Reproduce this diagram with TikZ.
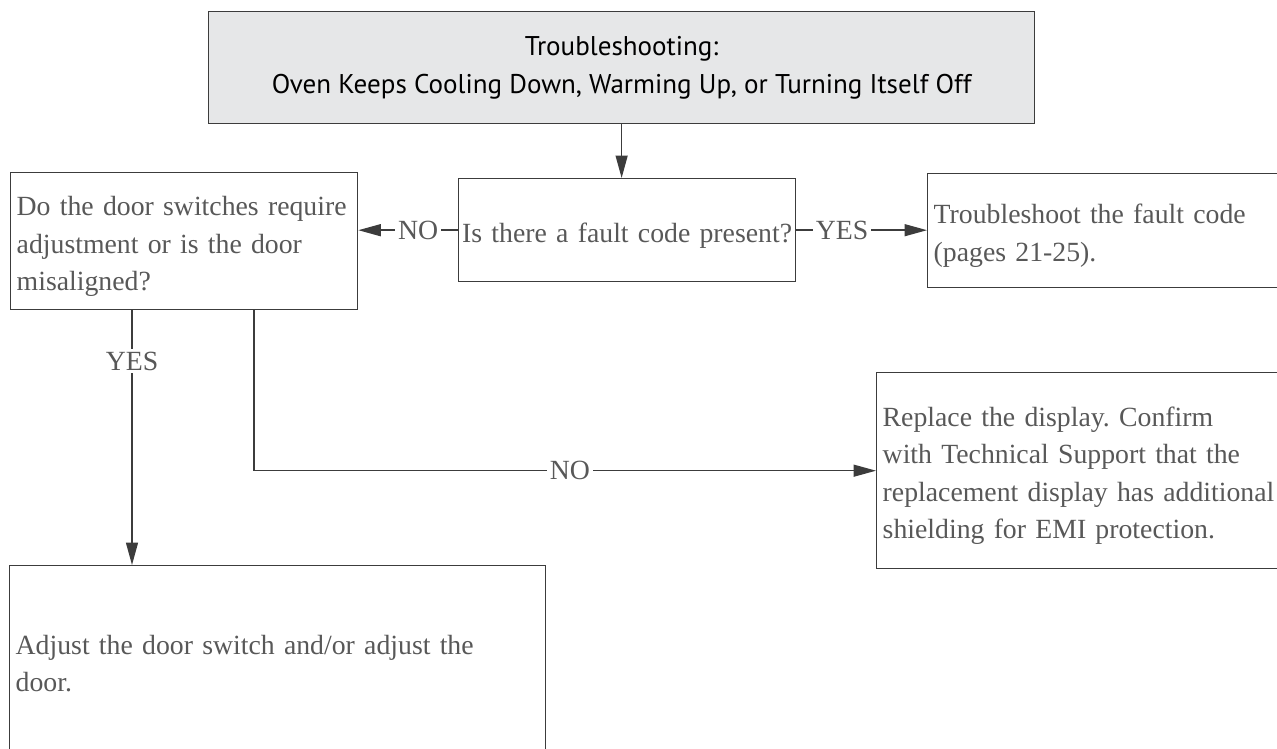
\documentclass[tikz,border=0pt]{standalone}
\usepackage{fontspec}
\setmainfont{Liberation Serif}
\newfontfamily\headfont{PT Sans}
\definecolor{ovenGray}{RGB}{230,231,232}
\definecolor{ovenLine}{RGB}{60,60,60}
\definecolor{ovenText}{RGB}{88,88,88}
\usetikzlibrary{arrows.meta,calc}
\frenchspacing

\begin{document}
\begin{tikzpicture}[x=0.02cm, y=-0.02cm,
  box/.style={draw=ovenLine, line width=0.8pt, anchor=north west, align=left,
              inner xsep=0.12cm, inner ysep=0pt, text=ovenText,
              font=\fontsize{15.8}{21.3}\selectfont},
  lower/.style={execute at begin node={\rule{0pt}{#1}}},
  lower/.default=0.6cm,
  head/.style={draw=ovenLine, line width=0.8pt, fill=ovenGray, anchor=north west,
               align=center, font=\headfont\fontsize{15.4}{21.6}\selectfont},
  arr/.style={-{Triangle[length=0.45cm, width=0.24cm]}, line width=0.8pt, draw=ovenLine},
  lbl/.style={fill=white, inner sep=1.5pt, text=ovenText, font=\fontsize{15.8}{18}\selectfont}
]
  \clip (0,0) rectangle (1277,748);

  \node[head, lower=0.5cm, minimum width=16.52cm, minimum height=2.24cm] (title) at (208,11)
    {Troubleshooting:\\Oven Keeps Cooling Down, Warming Up, or Turning Itself Off};

  \node[box, lower, inner xsep=0.07cm, text width=6.60cm, minimum height=2.06cm] (fault) at (458,178)
    {Is there a fault code present?};
  \node[box, lower, text width=6.70cm, minimum height=2.74cm] (door) at (10,172)
    {Do the door switches require\\adjustment or is the door\\misaligned?};
  \node[box, lower, text width=7.42cm, minimum height=2.28cm] (code) at (927,173)
    {Troubleshoot the fault code\\(pages 21-25).};
  \node[box, lower, text width=8.24cm, minimum height=3.92cm] (display) at (876,372)
    {Replace the display. Confirm\\with Technical Support that the\\replacement display has additional\\shielding for EMI protection.};
  \node[box, text width=10.48cm, minimum height=3.92cm] (adjust) at (9,565)
    {Adjust the door switch and/or adjust the\\door.};

  \coordinate (dyes) at ($(door.south west)+(122,0)$);
  \coordinate (dno)  at ($(door.south west)+(244,0)$);

  \draw[arr] (title.south) -- (title.south |- fault.north);
  \draw[arr] (fault.west) -- node[lbl, pos=0.4]{NO} (fault.west -| door.east);
  \draw[arr] (fault.east) -- node[lbl, pos=0.35]{YES} (fault.east -| code.west);
  \draw[arr] (dyes) -- node[lbl, pos=0.2]{YES} (dyes |- adjust.north);
  \draw[arr] (dno) |- node[lbl, pos=0.754]{NO} (display.west);
\end{tikzpicture}
\end{document}
